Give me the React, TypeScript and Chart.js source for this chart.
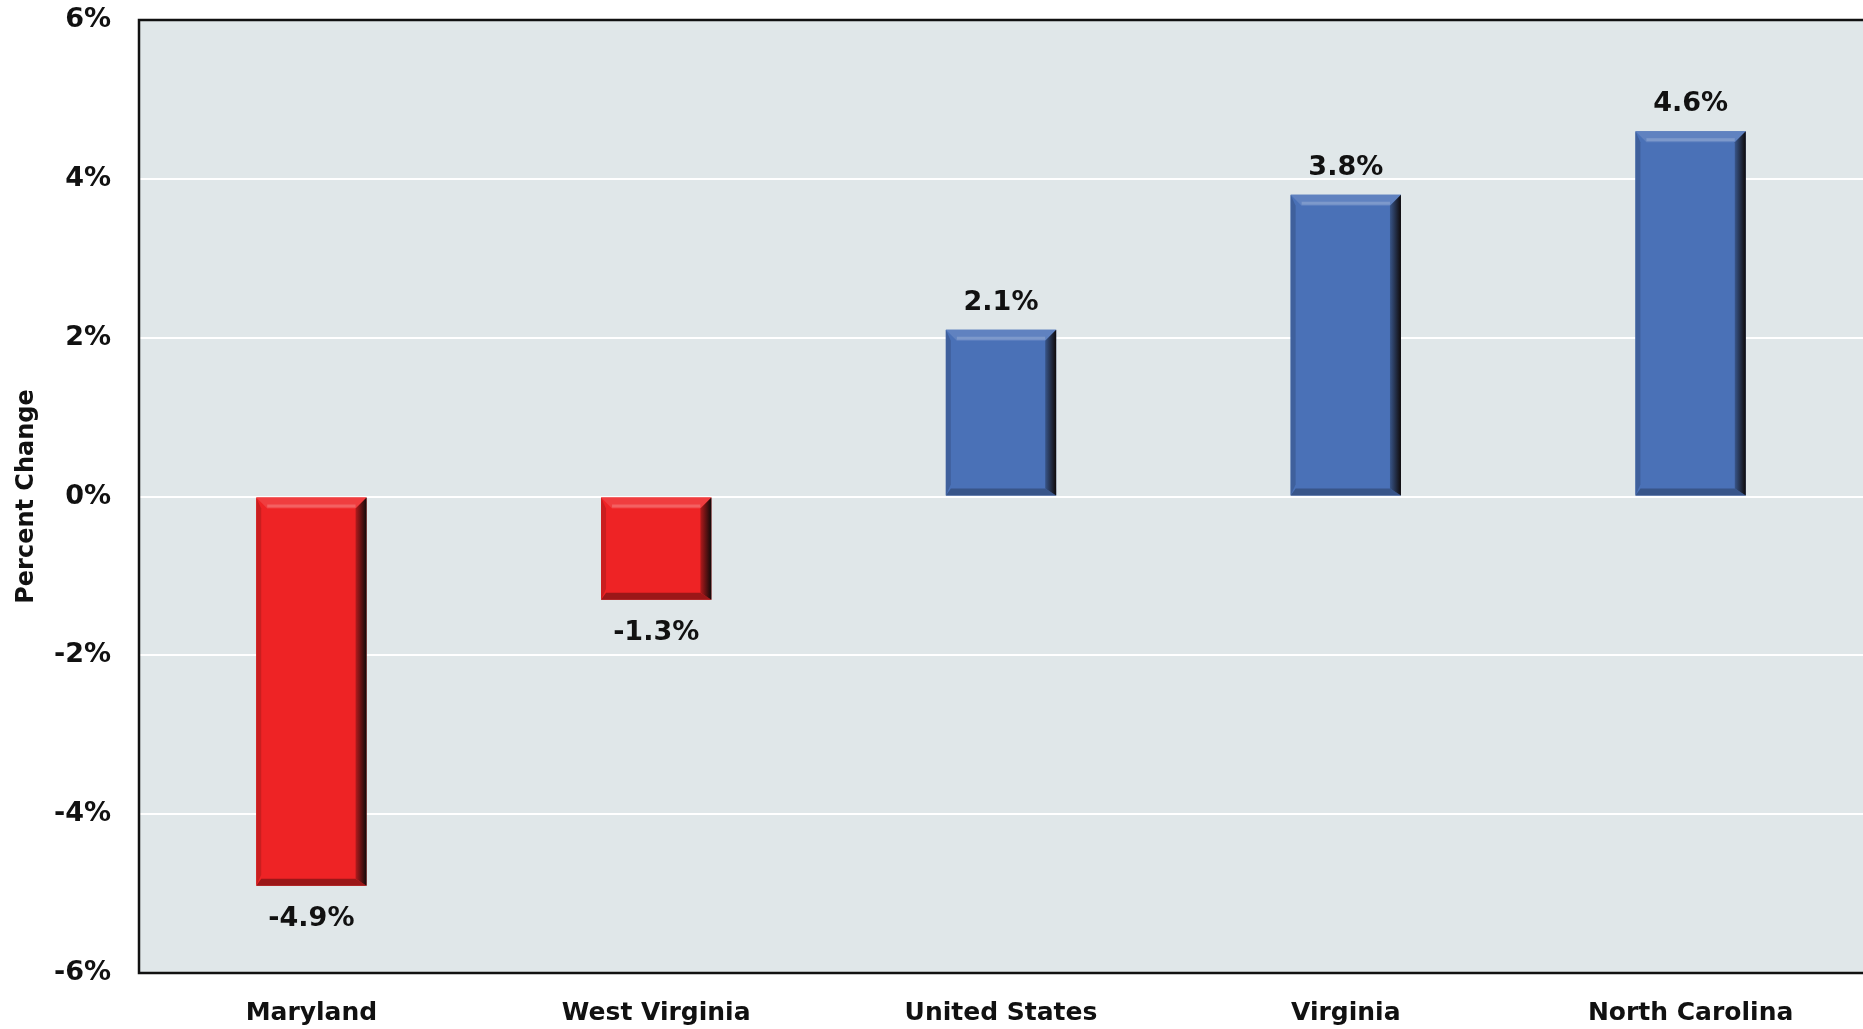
import React, { useEffect, useRef } from "react";
import { Chart, registerables } from "chart.js";

Chart.register(...registerables);

const categories = ["Maryland", "West Virginia", "United States", "Virginia", "North Carolina"];
const values = [-4.9, -1.3, 2.1, 3.8, 4.6];
const yTicks = [-6, -4, -2, 0, 2, 4, 6];

const RED = "#EE2325";
const BLUE = "#4A71B7";
const FONT = "'DejaVu Sans', 'Open Sans', sans-serif";

const plotBg = {
  id: "plotBg",
  beforeDraw(chart: any) {
    const { ctx, chartArea: a } = chart;
    ctx.save();
    ctx.fillStyle = "#E0E7E9";
    ctx.fillRect(a.left, a.top, a.right - a.left + 10, a.bottom - a.top);
    ctx.restore();
  },
  afterDraw(chart: any) {
    const { ctx, chartArea: a } = chart;
    ctx.save();
    ctx.strokeStyle = "#111";
    ctx.lineWidth = 2.5;
    ctx.beginPath();
    ctx.moveTo(a.right + 10, a.top);
    ctx.lineTo(a.left, a.top);
    ctx.lineTo(a.left, a.bottom);
    ctx.lineTo(a.right + 10, a.bottom);
    ctx.stroke();
    ctx.restore();
  },
};

function shade(hex: string, f: number) {
  const n = parseInt(hex.slice(1), 16);
  let r = (n >> 16) & 255, g = (n >> 8) & 255, b = n & 255;
  if (f < 0) {
    r = Math.round(r * (1 + f)); g = Math.round(g * (1 + f)); b = Math.round(b * (1 + f));
  } else {
    r = Math.round(r + (255 - r) * f); g = Math.round(g + (255 - g) * f); b = Math.round(b + (255 - b) * f);
  }
  return `rgb(${r},${g},${b})`;
}

const bevel = {
  id: "bevel",
  afterDatasetsDraw(chart: any) {
    const { ctx } = chart;
    const meta = chart.getDatasetMeta(0);
    meta.data.forEach((bar: any, i: number) => {
      const v = values[i];
      const color = v < 0 ? RED : BLUE;
      const l = bar.x - bar.width / 2;
      const r = bar.x + bar.width / 2;
      const t = Math.min(bar.y, bar.base);
      const btm = Math.max(bar.y, bar.base);
      const bw = 11;
      ctx.save();
      // top bevel
      ctx.fillStyle = shade(color, 0.12);
      ctx.beginPath();
      ctx.moveTo(l, t); ctx.lineTo(r, t); ctx.lineTo(r - bw, t + bw); ctx.lineTo(l + bw, t + bw); ctx.closePath();
      ctx.fill();
      ctx.fillStyle = shade(color, 0.28);
      ctx.fillRect(l + bw, t + bw - 4, r - l - 2 * bw, 3);
      // left bevel
      ctx.fillStyle = shade(color, -0.15);
      ctx.beginPath();
      ctx.moveTo(l, t); ctx.lineTo(l + 5, t + bw); ctx.lineTo(l + 5, btm - bw); ctx.lineTo(l, btm); ctx.closePath();
      ctx.fill();
      // bottom bevel
      ctx.fillStyle = shade(color, v < 0 ? -0.35 : -0.25);
      ctx.beginPath();
      ctx.moveTo(l, btm); ctx.lineTo(r, btm); ctx.lineTo(r - bw, btm - 7); ctx.lineTo(l + 5, btm - 7); ctx.closePath();
      ctx.fill();
      // right bevel gradient
      const g = ctx.createLinearGradient(r - bw, 0, r, 0);
      g.addColorStop(0, shade(color, -0.25));
      g.addColorStop(1, "rgb(15,10,10)");
      ctx.fillStyle = g;
      ctx.beginPath();
      ctx.moveTo(r, t); ctx.lineTo(r, btm); ctx.lineTo(r - bw, btm - 7); ctx.lineTo(r - bw, t + bw); ctx.closePath();
      ctx.fill();
      ctx.restore();
    });
  },
};

const dataLabels = {
  id: "dataLabels",
  afterDatasetsDraw(chart: any) {
    const { ctx } = chart;
    const meta = chart.getDatasetMeta(0);
    ctx.save();
    ctx.font = `bold 27px ${FONT}`;
    ctx.fillStyle = "#111";
    ctx.textAlign = "center";
    ctx.textBaseline = "middle";
    meta.data.forEach((bar: any, i: number) => {
      const v = values[i];
      const y = v < 0 ? bar.y + 33 : bar.y - 27;
      ctx.fillText(v.toFixed(1) + "%", bar.x, y);
    });
    ctx.restore();
  },
};

export default function App() {
  const ref = useRef<HTMLCanvasElement | null>(null);
  useEffect(() => {
    document.body.style.margin = "0";
    const canvas = ref.current!;
    const chart = new Chart(canvas, {
      type: "bar",
      data: {
        labels: categories,
        datasets: [
          {
            data: values,
            backgroundColor: values.map((v) => (v < 0 ? RED : BLUE)),
            borderWidth: 0,
            barPercentage: 0.64,
            categoryPercentage: 0.5,
          },
        ],
      },
      options: {
        responsive: false,
        animation: false,
        maintainAspectRatio: false,
        layout: { padding: { top: 20, right: -2, left: 0, bottom: 0 } },
        plugins: { legend: { display: false }, tooltip: { enabled: false } },
        scales: {
          x: {
            grid: { display: false, drawTicks: false },
            border: { display: false },
            ticks: { color: "#111", font: { family: FONT, size: 25, weight: "bold" }, padding: 25, maxRotation: 0 },
            afterFit: (s: any) => { s.height = 56; s.paddingLeft = 0; s.paddingRight = 0; },
          },
          y: {
            min: -6,
            max: 6,
            afterBuildTicks: (s: any) => { s.ticks = yTicks.map((v) => ({ value: v })); },
            grid: { color: "#FFFFFF", lineWidth: 2, drawTicks: false },
            border: { display: false },
            ticks: {
              color: "#111",
              font: { family: FONT, size: 27, weight: "bold" },
              padding: 28,
              callback: (v: any) => `${v}%`,
            },
            title: {
              display: true,
              text: "Percent Change",
              color: "#111",
              font: { family: FONT, size: 24, weight: "bold" },
              padding: { top: 12, bottom: 0 },
            },
            afterFit: (s: any) => { s.width = 139; s.paddingTop = 0; s.paddingBottom = 0; },
          },
        },
      },
      plugins: [plotBg, bevel, dataLabels],
    } as any);
    return () => chart.destroy();
  }, []);
  return <canvas ref={ref} width={1863} height={1029} style={{ display: "block" }} />;
}
